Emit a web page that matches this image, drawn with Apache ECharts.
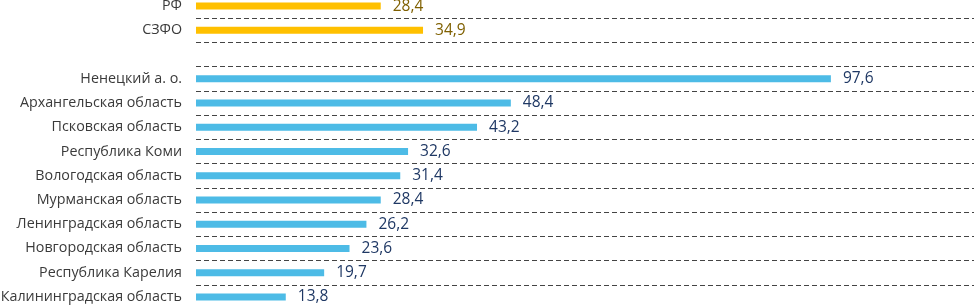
<!DOCTYPE html>
<html>
<head>
<meta charset="utf-8">
<script src="https://cdn.jsdelivr.net/npm/echarts@6/dist/echarts.min.js"></script>
<style>
  html, body { margin: 0; padding: 0; background: #fff; }
  #chart { width: 974px; height: 305px; }
</style>
</head>
<body>
<div id="chart"></div>
<script>
const federalNames = ["РФ", "СЗФО"];
const federalValues = [28.4, 34.9];
const regionNames = [
  "Ненецкий а. о.",
  "Архангельская область",
  "Псковская область",
  "Республика Коми",
  "Вологодская область",
  "Мурманская область",
  "Ленинградская область",
  "Новгородская область",
  "Республика Карелия",
  "Калининградская область"
];
const regionValues = [97.6, 48.4, 43.2, 32.6, 31.4, 28.4, 26.2, 23.6, 19.7, 13.8];

// one empty row separates the federal rows from the regions
const categories = federalNames.concat([""], regionNames);
const federalData = federalValues.concat(new Array(regionNames.length + 1).fill(null));
const regionData = new Array(federalNames.length + 1).fill(null).concat(regionValues);

const fmt = p => String(p.value).replace(".", ",");
const font = "'Open Sans', sans-serif";

const chart = echarts.init(document.getElementById("chart"));

chart.setOption({
  animation: false,
  grid: { left: 196, right: 0, top: -6, height: 315, outerBoundsMode: "none", containLabel: false },
  xAxis: {
    type: "value",
    min: 0,
    max: 119.6,
    show: false
  },
  yAxis: {
    type: "category",
    inverse: true,
    data: categories,
    axisLine: { show: false },
    axisTick: { show: false },
    axisLabel: { color: "#3a3a3a", fontSize: 14.3, fontFamily: font, margin: 14 },
    splitLine: { show: true, lineStyle: { color: "#444", type: [5, 3], width: 1 } }
  },
  series: [
    {
      name: "federal",
      type: "bar",
      data: federalData,
      barWidth: 7,
      barGap: "-100%",
      itemStyle: { color: "#FFC000" },
      label: {
        show: true, position: "right", distance: 12, formatter: fmt,
        color: "#7F6000", fontSize: 15.5, fontFamily: font
      }
    },
    {
      name: "regions",
      type: "bar",
      data: regionData,
      barWidth: 7,
      barGap: "-100%",
      itemStyle: { color: "#4DBBE6" },
      label: {
        show: true, position: "right", distance: 12, formatter: fmt,
        color: "#1F3864", fontSize: 15.5, fontFamily: font
      }
    }
  ]
});
</script>
</body>
</html>
